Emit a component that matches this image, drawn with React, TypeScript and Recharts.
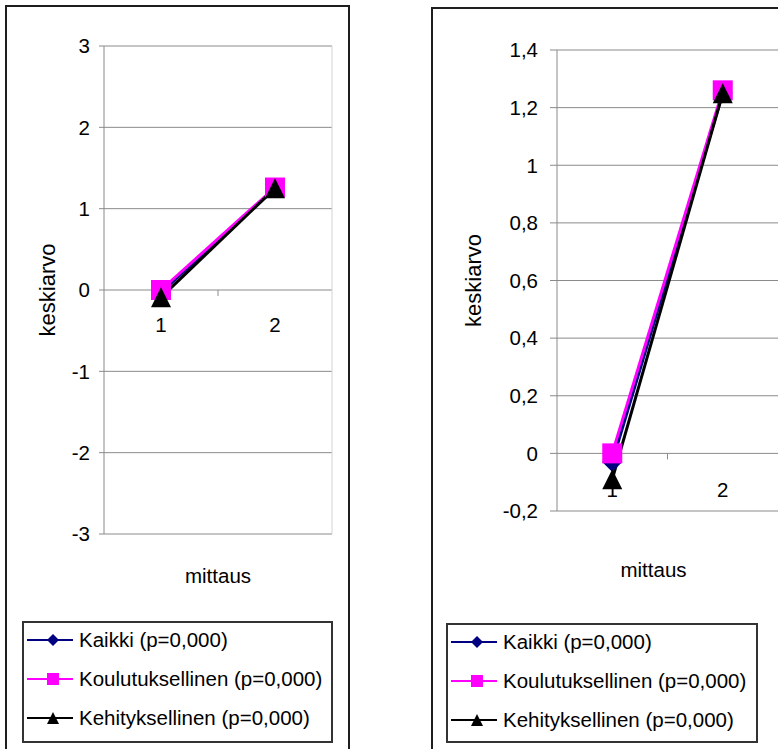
import React from "react";
import { LineChart, Line, XAxis, YAxis, CartesianGrid, ReferenceDot, ReferenceLine, Legend } from "recharts";

// mittauskerrat ja ryhmien keskiarvot
const mittaukset = [1, 2];
const kaikki = [-0.03, 1.25];
const koulutuksellinen = [0, 1.26];
const kehityksellinen = [-0.09, 1.25];

const leftTicks = [-3, -2, -1, 0, 1, 2, 3];
const rightTicks = [-0.2, 0, 0.2, 0.4, 0.6, 0.8, 1, 1.2, 1.4];

// piirtojärjestys: a, b, c (musta viimeisenä päällimmäiseksi)
const series = [
  { key: "a_kaikki", name: "Kaikki (p=0,000)", color: "#000080", shape: "diamond" },
  { key: "b_koulutuksellinen", name: "Koulutuksellinen (p=0,000)", color: "#ff00ff", shape: "square" },
  { key: "c_kehityksellinen", name: "Kehityksellinen (p=0,000)", color: "#000000", shape: "triangle" },
];

const data = mittaukset.map((m, i) => ({
  mittaus: m,
  a_kaikki: kaikki[i],
  b_koulutuksellinen: koulutuksellinen[i],
  c_kehityksellinen: kehityksellinen[i],
}));

const FONT = "'Liberation Sans', Arial, sans-serif";
const GRID = "#8a8a8a";

function Marker({ cx, cy, shape, color, size }: any) {
  const h = size / 2;
  if (shape === "diamond")
    return <polygon points={`${cx},${cy - h} ${cx + h},${cy} ${cx},${cy + h} ${cx - h},${cy}`} fill={color} />;
  if (shape === "square") return <rect x={cx - h} y={cy - h} width={size} height={size} fill={color} />;
  return <polygon points={`${cx},${cy - h} ${cx + h},${cy + h} ${cx - h},${cy + h}`} fill={color} />;
}

const fmt = (v: number) => String(v).replace(".", ",");

function renderLegend() {
  return (
    <div
      style={{
        boxSizing: "border-box",
        width: "100%",
        height: "100%",
        border: "2px solid #333",
        background: "#fff",
        fontFamily: FONT,
      }}
    >
      <div style={{ marginTop: -3 }}>
        {series.map((s) => (
          <div key={s.key} style={{ display: "flex", alignItems: "center", height: 39, whiteSpace: "nowrap" }}>
            <svg width={55} height={20} style={{ flex: "none" }}>
              <line x1={3} x2={49} y1={10} y2={10} stroke={s.color} strokeWidth={2} />
              <Marker cx={29} cy={10} shape={s.shape} color={s.color} size={12} />
            </svg>
            <span style={{ fontSize: 20.5, color: "#000" }}>{s.name}</span>
          </div>
        ))}
      </div>
    </div>
  );
}

type PanelProps = {
  left: number;
  width: number;
  margin: { top: number; right: number; left: number; bottom: number };
  yWidth: number;
  domain: [number, number];
  ticks: number[];
  tickSize: number;
  tickMargin: number;
  xHeight: number;
  yTitleDx: number;
  xTitleDx: number;
  catLabelOffset: number;
  legendBox: { left: number; top: number; width: number; height: number };
  edgeLine?: boolean;
};

function Panel(p: PanelProps) {
  return (
    <div style={{ position: "absolute", left: p.left, top: 0 }}>
      <LineChart width={p.width} height={749} data={data} margin={p.margin}>
        <CartesianGrid vertical={false} stroke={GRID} strokeWidth={1} />
        <XAxis
          type="number"
          dataKey="mittaus"
          domain={[0.5, 2.5]}
          height={p.xHeight}
          tick={false}
          axisLine={false}
          tickLine={false}
          label={{ value: "mittaus", position: "center", dx: p.xTitleDx, fill: "#000", fontSize: 20.5 }}
        />
        <YAxis
          width={p.yWidth}
          domain={p.domain}
          ticks={p.ticks}
          interval={0}
          tickFormatter={fmt}
          tickSize={p.tickSize}
          tickMargin={p.tickMargin}
          axisLine={{ stroke: GRID }}
          tickLine={{ stroke: GRID }}
          tick={{ fill: "#000", fontSize: 20.5 }}
          label={{ value: "keskiarvo", angle: -90, position: "center", dx: p.yTitleDx, fill: "#000", fontSize: 22 }}
        />
        {p.edgeLine && <ReferenceLine x={2.5} stroke="#d4d4d4" />}
        {/* luokka-akselin väliviiva nollatasolla */}
        <ReferenceDot
          x={1.5}
          y={0}
          r={0}
          zIndex={0}
          shape={(d: any) => <line x1={d.cx} x2={d.cx} y1={d.cy} y2={d.cy + 6} stroke={GRID} />}
        />
        {/* luokkien nimet nollaviivan alle */}
        {mittaukset.map((m) => (
          <ReferenceDot
            key={m}
            x={m}
            y={0}
            r={0}
            zIndex={0}
            shape={(d: any) => (
              <text
                x={d.cx}
                y={d.cy + p.catLabelOffset + 15}
                textAnchor="middle"
                fill="#000"
                fontSize={20.5}
              >
                {m}
              </text>
            )}
          />
        ))}
        {series.map((s, i) => (
          <Line
            key={s.key}
            type="linear"
            dataKey={s.key}
            name={s.name}
            stroke={s.color}
            strokeWidth={3}
            zIndex={400 + i * 10}
            isAnimationActive={false}
            activeDot={false}
            dot={(d: any) => (
              <Marker key={`${s.key}-${d.index}`} cx={d.cx} cy={d.cy} shape={s.shape} color={s.color} size={20} />
            )}
          />
        ))}
        <Legend
          layout="vertical"
          align="center"
          verticalAlign="middle"
          content={renderLegend}
          wrapperStyle={{ ...p.legendBox }}
        />
      </LineChart>
    </div>
  );
}

export default function App() {
  return (
    <div
      style={{
        position: "absolute",
        left: 0,
        top: 0,
        width: 778,
        height: 749,
        overflow: "hidden",
        background: "#fff",
        fontFamily: FONT,
      }}
    >
      <div
        style={{
          position: "absolute",
          left: 5,
          top: 5,
          width: 345,
          height: 800,
          boxSizing: "border-box",
          border: "2.5px solid #1e1e1e",
        }}
      />
      <div
        style={{
          position: "absolute",
          left: 431,
          top: 7,
          width: 400,
          height: 800,
          boxSizing: "border-box",
          border: "2.5px solid #1e1e1e",
        }}
      />
      <Panel
        left={0}
        width={360}
        margin={{ top: 46, right: 28, left: 0, bottom: 131 }}
        yWidth={104}
        domain={[-3, 3]}
        ticks={leftTicks}
        tickSize={5}
        tickMargin={9}
        xHeight={84}
        yTitleDx={-5}
        xTitleDx={0}
        catLabelOffset={27}
        legendBox={{ left: 22, top: 621, width: 311, height: 122 }}
        edgeLine
      />
      <Panel
        left={420}
        width={358}
        margin={{ top: 50, right: 0, left: 0, bottom: 120 }}
        yWidth={137}
        domain={[-0.2, 1.4]}
        ticks={rightTicks}
        tickSize={7}
        tickMargin={12}
        xHeight={118}
        yTitleDx={-15}
        xTitleDx={-14}
        catLabelOffset={29}
        legendBox={{ left: 26, top: 623, width: 312, height: 120 }}
      />
    </div>
  );
}
